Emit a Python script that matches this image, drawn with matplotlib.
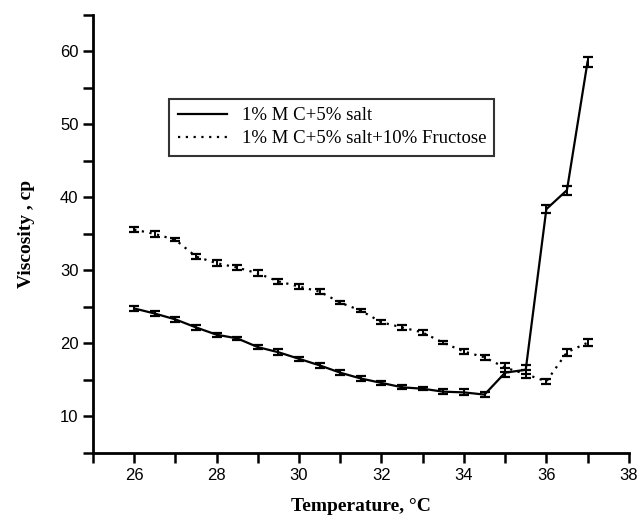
import numpy as np
import matplotlib as mpl
import matplotlib.pyplot as plt
from matplotlib.ticker import MultipleLocator
from matplotlib.lines import Line2D

mpl.rcParams['font.family'] = ['Liberation Serif', 'DejaVu Serif']

# data
temp = [26, 26.5, 27, 27.5, 28, 28.5, 29, 29.5, 30, 30.5, 31, 31.5,
        32, 32.5, 33, 33.5, 34, 34.5, 35, 35.5, 36, 36.5, 37]
visc_salt = [24.8, 24.1, 23.3, 22.2, 21.2, 20.7, 19.5, 18.8, 17.9, 17.0, 16.0, 15.2,
             14.6, 14.0, 13.8, 13.4, 13.3, 13.0, 16.0, 16.4, 38.4, 41.0, 58.6]
err_salt = [0.4, 0.3, 0.3, 0.3, 0.3, 0.2, 0.3, 0.4, 0.3, 0.3, 0.3, 0.3,
            0.3, 0.3, 0.2, 0.3, 0.4, 0.3, 0.6, 0.6, 0.5, 0.6, 0.7]
visc_fru = [35.6, 35.0, 34.2, 31.9, 31.0, 30.4, 29.6, 28.5, 27.8, 27.1, 25.6, 24.5,
            22.9, 22.2, 21.5, 20.1, 18.9, 18.1, 16.7, 15.8, 14.8, 18.8, 20.1]
err_fru = [0.3, 0.4, 0.2, 0.3, 0.4, 0.3, 0.4, 0.3, 0.4, 0.3, 0.2, 0.2,
           0.3, 0.3, 0.3, 0.2, 0.3, 0.3, 0.6, 0.5, 0.3, 0.5, 0.5]
labels = ['1% M C+5% salt', '1% M C+5% salt+10% Fructose']

fig = plt.figure(figsize=(6.39, 5.15), dpi=100)
ax = fig.add_axes([0.1455, 0.1204, 0.8385, 0.8506])

dotted = (0, (1, 2.5))
ax.errorbar(temp, visc_salt, yerr=err_salt, color='black', lw=1.6,
            capsize=3.5, elinewidth=1.4, capthick=1.6)
ax.errorbar(temp, visc_fru, yerr=err_fru, color='black', lw=1.6,
            ls=dotted, capsize=3.5, elinewidth=1.4, capthick=1.6)

ax.set_xlim(25, 38)
ax.set_ylim(5, 65)
ax.xaxis.set_major_locator(MultipleLocator(2))
ax.xaxis.set_minor_locator(MultipleLocator(1))
ax.yaxis.set_minor_locator(MultipleLocator(5))
ax.set_yticks([10, 20, 30, 40, 50, 60])

for s in ['top', 'right']:
    ax.spines[s].set_visible(False)
for s in ['left', 'bottom']:
    ax.spines[s].set_linewidth(2)
ax.tick_params(which='both', direction='out', width=1.8, colors='black', length=7)
for lab in ax.get_xticklabels() + ax.get_yticklabels():
    lab.set_family('Liberation Sans')
    lab.set_fontsize(12)

ax.set_xlabel('Temperature, °C', fontsize=14, fontweight='bold', labelpad=11)
ax.set_ylabel('Viscosity , cp', fontsize=14, fontweight='bold', labelpad=18)

handles = [Line2D([], [], color='black', lw=1.6),
           Line2D([], [], color='black', lw=1.6, ls=dotted)]
leg = ax.legend(handles, labels, loc='upper left', bbox_to_anchor=(0.125, 0.83),
                fontsize=13.5, frameon=True, fancybox=False, edgecolor='black',
                handlelength=2.6, borderpad=0.45, labelspacing=0.3)
leg.get_frame().set_linewidth(1.5)

fig.savefig('out.png', dpi=100)
